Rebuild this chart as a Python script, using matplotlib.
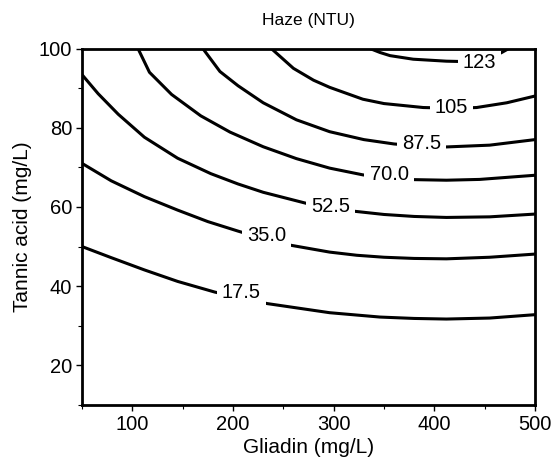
import numpy as np
import matplotlib.pyplot as plt
from matplotlib.ticker import MultipleLocator

plt.rcParams.update({
    'font.family': ['Liberation Sans', 'DejaVu Sans'],
    'font.size': 14.5,
})

# --- contour labels (NTU) as printed
level_text = ['17.5', '35.0', '52.5', '70.0', '87.5', '105', '123']

# --- contour lines: gliadin (mg/L) vs tannic acid (mg/L)
g_175 = [50, 79, 112, 145, 182, 234, 296, 346, 380, 412, 455, 500]
t_175 = [50.0, 47.2, 44.1, 41.2, 38.5, 35.6, 33.3, 32.2, 31.85, 31.7, 31.95, 32.8]
g_350 = [50, 79, 112, 145, 175, 205, 230, 258, 296, 323, 350, 380, 412, 455, 500]
t_350 = [71.0, 66.6, 62.6, 59.2, 56.3, 53.9, 52.0, 50.3, 48.6, 47.8, 47.3, 47.0, 46.9, 47.3, 48.1]
g_525 = [50, 66, 86, 112, 145, 178, 205, 230, 273, 321, 350, 380, 412, 455, 500]
t_525 = [93.4, 88.6, 83.4, 77.6, 72.3, 68.4, 65.8, 63.7, 60.9, 58.9, 58.1, 57.6, 57.35, 57.5, 58.2]
g_700 = [105.6, 117, 139, 168, 197, 230, 263, 296, 329, 355, 379, 412, 445, 500]
t_700 = [100.0, 94.0, 88.4, 83.0, 78.9, 75.2, 72.2, 69.8, 68.1, 67.3, 66.9, 66.75, 66.95, 68.0]
g_875 = [170, 187, 205, 230, 263, 296, 330, 360, 390, 412, 455, 500]
t_875 = [100.0, 94.2, 90.6, 86.3, 82.0, 79.0, 77.0, 75.9, 75.3, 75.15, 75.6, 77.0]
g_1050 = [238, 260, 280, 296, 329, 350, 389, 420, 442, 472, 500]
t_1050 = [100.0, 95.0, 92.0, 90.2, 87.2, 86.1, 85.1, 84.9, 85.1, 86.3, 88.0]
g_1225 = [336, 346, 356, 379, 412, 430, 445, 458, 467, 474]
t_1225 = [100.0, 99.0, 98.2, 97.3, 96.8, 96.7, 97.0, 97.9, 99.0, 100.0]

# --- label centres
label_g = [208, 233.5, 297, 355, 387.5, 417, 445]
label_t = [38.3, 52.7, 60.1, 68.1, 75.9, 85.2, 96.5]

lines = [(g_175, t_175), (g_350, t_350), (g_525, t_525), (g_700, t_700),
         (g_875, t_875), (g_1050, t_1050), (g_1225, t_1225)]

fig = plt.figure(figsize=(5.56, 4.62), dpi=100)
ax = fig.add_axes([0.1475, 0.1234, 0.8147, 0.7716])

for g, t in lines:
    ax.plot(g, t, color='black', lw=2.2, solid_joinstyle='round',
            solid_capstyle='round', zorder=2)

for txt, g, t in zip(level_text, label_g, label_t):
    ax.text(g, t, txt, ha='center', va='center', fontsize=14.5, zorder=2.2,
            bbox=dict(boxstyle='square,pad=0.25', fc='white', ec='none'))

ax.set_xlim(50, 500)
ax.set_ylim(10, 100)
ax.xaxis.set_major_locator(MultipleLocator(100))
ax.xaxis.set_minor_locator(MultipleLocator(50))
ax.yaxis.set_major_locator(MultipleLocator(20))
ax.yaxis.set_minor_locator(MultipleLocator(10))
ax.tick_params(which='major', direction='out', length=4, width=1, labelsize=14.5, pad=3)
ax.tick_params(which='minor', direction='out', length=3, width=0.8)
for s in ax.spines.values():
    s.set_linewidth(2)

ax.set_xlabel('Gliadin (mg/L)', fontsize=15, labelpad=3)
ax.set_ylabel('Tannic acid (mg/L)', fontsize=15, labelpad=5)
ax.set_title('Haze (NTU)', fontsize=12.5, pad=17)

fig.savefig('out.png', dpi=100)
